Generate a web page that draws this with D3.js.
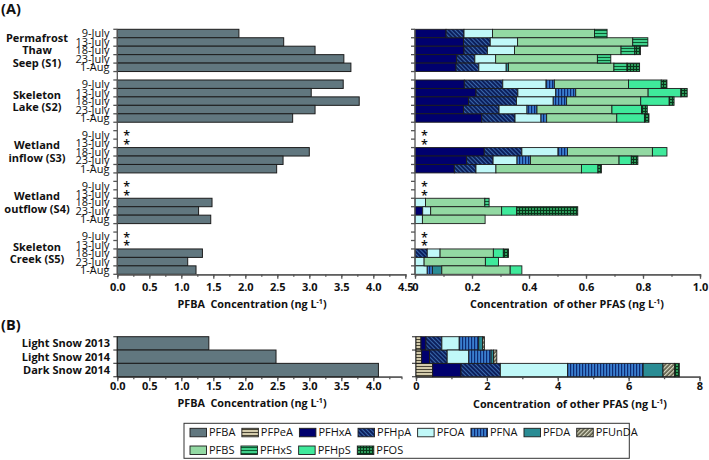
<!DOCTYPE html>
<html><head><meta charset="utf-8">
<script src="https://cdn.jsdelivr.net/npm/d3@7"></script>
<style>
body{margin:0;background:#fff}
svg{display:block}
text{font-family:'Open Sans',sans-serif;fill:#111}
</style>
</head><body>
<svg id="c" width="709" height="460"></svg>
<script>
// ---------------- DATA ----------------
const siteLabels = [["Permafrost","Thaw","Seep (S1)"],["Skeleton","Lake (S2)"],["Wetland","inflow (S3)"],["Wetland","outflow (S4)"],["Skeleton","Creek (S5)"]];
const dates = ["9-July","13-July","18-July","23-July","1-Aug"];
// rows: S1 (5 dates), S2, S3, S4, S5 ; null = not sampled (*)
const pfbaA = [1.90,2.60,3.09,3.54,3.65, 3.53,3.03,3.78,3.09,2.74, null,null,3.00,2.59,2.49, null,null,1.48,1.27,1.46, null,null,1.33,1.10,1.23];
const compounds = ["PFPeA","PFHxA","PFHpA","PFOA","PFNA","PFDA","PFUnDA","PFBS","PFHxS","PFHpS","PFOS"];
const pfpeaA  = [0,0,0,0,0, 0,0,0,0,0, null,null,0,0,0, null,null,0,0,0, null,null,0,0,0];
const pfhxaA  = [.109,.170,.172,.146,.144, .173,.214,.188,.170,.234, null,null,.243,.181,.138, null,null,0,.027,0, null,null,0,0,0];
const pfhpaA  = [.063,.094,.082,.064,.080, .135,.147,.168,.125,.117, null,null,.132,.093,.076, null,null,0,0,0, null,null,.043,0,0];
const pfoaA   = [.100,.096,.095,.073,.096, .152,.133,.129,.098,.091, null,null,.127,.084,.070, null,null,.037,.028,.026, null,null,.045,.032,.043];
const pfnaA   = [0,0,0,0,0, .029,.070,.047,.035,.020, null,null,.033,.047,0, null,null,0,0,0, null,null,0,0,.018];
const pfdaA   = [0,0,0,0,.008, 0,0,0,0,0, null,null,0,0,0, null,null,0,0,0, null,null,0,0,.033];
const pfundaA = [0,0,0,0,0, 0,0,0,0,0, null,null,0,0,0, null,null,0,0,0, null,null,0,0,0];
const pfbsA   = [.358,.404,.374,.357,.370, .260,.254,.260,.263,.246, null,null,.298,.311,.300, null,null,.208,.249,.220, null,null,.187,.215,.240];
const pfhxsA  = [.044,.053,.048,.047,.046, 0,0,0,0,0, null,null,0,0,0, null,null,.015,0,0, null,null,0,0,0];
const pfhpsA  = [0,0,0,0,0, .115,.115,.100,.104,.097, null,null,.051,.043,.058, null,null,0,.053,0, null,null,.035,.046,.041];
const pfosA   = [0,0,.020,0,.044, .020,.022,.017,.020,.016, null,null,0,.023,.012, null,null,0,.214,0, null,null,.018,0,0];

const snowCats = ["Light Snow 2013","Light Snow 2014","Dark Snow 2014"];
const pfbaSnow   = [1.43, 2.48, 4.08];
const pfpeaSnow  = [0.14, 0.16, 0.47];
const pfhxaSnow  = [0.14, 0.22, 0.80];
const pfhpaSnow  = [0.45, 0.50, 1.11];
const pfoaSnow   = [0.49, 0.61, 1.90];
const pfnaSnow   = [0.55, 0.63, 2.13];
const pfdaSnow   = [0.11, 0.07, 0.56];
const pfundaSnow = [0.05, 0.09, 0.33];
const pfbsSnow   = [0, 0, 0];
const pfhxsSnow  = [0, 0, 0];
const pfhpsSnow  = [0, 0, 0];
const pfosSnow   = [0, 0, 0.13];

const legendRow1 = ["PFBA","PFPeA","PFHxA","PFHpA","PFOA","PFNA","PFDA","PFUnDA"];
const legendRow2 = ["PFBS","PFHxS","PFHpS","PFOS"];

const seriesA = [pfpeaA,pfhxaA,pfhpaA,pfoaA,pfnaA,pfdaA,pfundaA,pfbsA,pfhxsA,pfhpsA,pfosA];
const seriesSnow = [pfpeaSnow,pfhxaSnow,pfhpaSnow,pfoaSnow,pfnaSnow,pfdaSnow,pfundaSnow,pfbsSnow,pfhxsSnow,pfhpsSnow,pfosSnow];

// ---------------- STYLE ----------------
const svg = d3.select("#c");
const defs = svg.append("defs");
function pattern(id, w, h, bg, rot){
  const p = defs.append("pattern").attr("id", id).attr("patternUnits","userSpaceOnUse")
    .attr("width", w).attr("height", h);
  if (rot) p.attr("patternTransform", `rotate(${rot})`);
  p.append("rect").attr("width", w).attr("height", h).attr("fill", bg);
  return p;
}
let p;
p = pattern("pPeA", 4, 3, "#d2caab"); p.append("rect").attr("y",0).attr("width",4).attr("height",1).attr("fill","#4a4535");
p = pattern("pHpA", 3, 3, "#0c1f5c", -45); p.append("rect").attr("x",0).attr("width",1).attr("height",3).attr("fill","#3a68aa");
p = pattern("pNA", 3, 4, "#3a7fcf"); p.append("rect").attr("x",0).attr("width",1.2).attr("height",4).attr("fill","#0e2a72");
p = pattern("pUnDA", 3, 3, "#5c5c46", 45); p.append("rect").attr("x",0).attr("width",1.3).attr("height",3).attr("fill","#d8d8c4");
p = pattern("pHxS", 4, 3, "#3fcf8a"); p.append("rect").attr("y",0).attr("width",4).attr("height",1).attr("fill","#0b5a30");
p = pattern("pOS", 3, 3, "#2c9a5a"); p.append("rect").attr("width",3).attr("height",1).attr("fill","#08361a"); p.append("rect").attr("width",1).attr("height",3).attr("fill","#08361a");

const fills = {PFBA:"#61777f", PFPeA:"url(#pPeA)", PFHxA:"#00006e", PFHpA:"url(#pHpA)", PFOA:"#c0f8f8",
  PFNA:"url(#pNA)", PFDA:"#2a8c94", PFUnDA:"url(#pUnDA)", PFBS:"#93d9a3", PFHxS:"url(#pHxS)", PFHpS:"#3fe99b", PFOS:"url(#pOS)"};
const axisColor = "#555";

// ---------------- SCALES ----------------
const nSlotsA = siteLabels.length*6 - 1;
const yA = d3.scaleBand().domain(d3.range(nSlotsA)).range([29.3, 274.3]).padding(0);
const slotOf = i => Math.floor(i/5)*6 + (i%5);
const xA  = d3.scaleLinear().domain([0,4.5]).range([117.3, 405.3]);
const xRA = d3.scaleLinear().domain([0,1]).range([415, 700]);
const yB  = d3.scaleBand().domain(snowCats).range([336.7, 376.7]).padding(0);
const xBL = d3.scaleLinear().domain([0,4.44]).range([117.3, 117.3+4.44*64]);
const xBR = d3.scaleLinear().domain([0,8]).range([416, 699.5]);

// ---------------- PANEL LABELS ----------------
svg.append("text").attr("x",1).attr("y",13.5).attr("font-size",14.5).attr("font-weight",700).text("(A)");
svg.append("text").attr("x",1).attr("y",330).attr("font-size",14.5).attr("font-weight",700).text("(B)");

// ---------------- PANEL A LEFT ----------------
const rowsA = pfbaA.map((v,i)=>({i, slot:slotOf(i), v}));
const gAL = svg.append("g");
gAL.selectAll("rect").data(rowsA.filter(d=>d.v!=null)).join("rect")
  .attr("x", xA(0)).attr("y", d=>yA(d.slot)).attr("width", d=>xA(d.v)-xA(0)).attr("height", yA.bandwidth())
  .attr("fill", fills.PFBA).attr("stroke","#1c1c1c").attr("stroke-width",1);

// stacked right A
const stackRowsA = pfbaA.map((v,i)=>{const o={slot:slotOf(i), missing: v==null}; compounds.forEach((c,k)=>o[c]=seriesA[k][i]||0); return o;});
const stackA = d3.stack().keys(compounds)(stackRowsA);
const gAR = svg.append("g");
stackA.forEach(layer=>{
  gAR.append("g").selectAll("rect").data(layer.filter(d=>!d.data.missing && d[1]-d[0]>0)).join("rect")
    .attr("x", d=>xRA(d[0])).attr("y", d=>yA(d.data.slot)).attr("width", d=>xRA(d[1])-xRA(d[0]))
    .attr("height", yA.bandwidth()).attr("fill", fills[layer.key]).attr("stroke","#1c1c1c").attr("stroke-width",0.9);
});

// asterisks
const missA = rowsA.filter(d=>d.v==null);
[xA(0), xRA(0)].forEach(x0=>{
  svg.append("g").selectAll("text").data(missA).join("text")
    .attr("x", x0+9.5).attr("y", d=>yA(d.slot)+yA.bandwidth()/2+5.5).attr("text-anchor","middle")
    .attr("font-size",12.5).attr("font-weight",600).text("*");
});

// date labels and site labels
const gLab = svg.append("g");
gLab.selectAll("text").data(rowsA).join("text")
  .attr("x", 109.5).attr("y", d=>yA(d.slot)+yA.bandwidth()/2).attr("dy","0.36em")
  .attr("text-anchor","end").attr("font-size",11).text(d=>dates[d.i%5]);
siteLabels.forEach((lines,s)=>{
  const cy = yA(s*6) + yA.bandwidth()*2.5;
  lines.forEach((t,k)=>{
    svg.append("text").attr("x",37).attr("y", cy + (k-(lines.length-1)/2)*12.7).attr("dy","0.36em")
      .attr("text-anchor","middle").attr("font-size",11).attr("font-weight",700).text(t);
  });
});

// y axes (category boundary ticks)
function yAxisLines(x0, y0, y1, ticks){
  const g = svg.append("g").attr("stroke", axisColor).attr("stroke-width",1.3);
  g.append("line").attr("x1",x0).attr("x2",x0).attr("y1",y0).attr("y2",y1);
  ticks.forEach(y=>g.append("line").attr("x1",x0-4).attr("x2",x0).attr("y1",y).attr("y2",y));
}
const bA = d3.range(nSlotsA+1).map(k=>yA.range()[0]+k*yA.step());
yAxisLines(xA(0), yA.range()[0], yA.range()[1], bA);
yAxisLines(xRA(0), yA.range()[0], yA.range()[1], bA);
const bB = d3.range(snowCats.length+1).map(k=>yB.range()[0]+k*yB.step());
yAxisLines(xBL(0), yB.range()[0], yB.range()[1], bB);
yAxisLines(xBR(0), yB.range()[0], yB.range()[1], bB);

// x axes
function xAxis(scale, y, major, minor, fmt, labelOffset){
  const g = svg.append("g").attr("transform",`translate(0,${y})`);
  g.call(d3.axisBottom(scale).tickValues(minor).tickSize(2.5).tickFormat(""));
  const g2 = svg.append("g").attr("transform",`translate(0,${y})`);
  g2.call(d3.axisBottom(scale).tickValues(major).tickSize(4.5).tickSizeOuter(0).tickPadding(labelOffset).tickFormat(fmt));
  [g,g2].forEach(gg=>{
    gg.select(".domain").attr("stroke",axisColor).attr("stroke-width",1.3);
    gg.selectAll(".tick line").attr("stroke",axisColor).attr("stroke-width",1.3);
  });
  g2.selectAll(".tick text").attr("font-size",11).attr("font-weight",700).attr("fill","#111")
    .attr("font-family","'Open Sans',sans-serif");
}
const f1 = d3.format(".1f");
xAxis(xA, 274.3, d3.range(0,4.51,0.5), d3.range(0,4.51,0.25), f1, 4.5);
xAxis(xRA, 274.3, d3.range(0,1.001,0.2), d3.range(0,1.001,0.1), d=>d===0?"0":f1(d), 4.5);
xAxis(xBL, 376.7, d3.range(0,4.01,0.5), d3.range(0,4.3,0.25), f1, 1);
xAxis(xBR, 376.7, d3.range(0,8.01,2), d3.range(0,8.01,1), d3.format("d"), 1);

// axis titles
function title(x, y, main){
  const t = svg.append("text").attr("x",x).attr("y",y).attr("dy","0.36em").attr("text-anchor","middle")
    .attr("font-size",10.8).attr("font-weight",700).attr("xml:space","preserve");
  t.append("tspan").text(main + " (ng L");
  t.append("tspan").attr("font-size",7).attr("dy",-4).text("-1");
  t.append("tspan").attr("dy",4).text(")");
}
title(252, 304.5, "PFBA  Concentration");
title(567, 304.5, "Concentration  of other PFAS");
title(252, 403, "PFBA  Concentration");
title(570, 404, "Concentration  of other PFAS");

// ---------------- PANEL B ----------------
svg.append("g").selectAll("rect").data(snowCats.map((c,i)=>({c, v:pfbaSnow[i]}))).join("rect")
  .attr("x", xBL(0)).attr("y", d=>yB(d.c)).attr("width", d=>xBL(d.v)-xBL(0)).attr("height", yB.bandwidth())
  .attr("fill", fills.PFBA).attr("stroke","#1c1c1c").attr("stroke-width",1);
const stackRowsB = snowCats.map((c,i)=>{const o={c}; compounds.forEach((k,j)=>o[k]=seriesSnow[j][i]); return o;});
d3.stack().keys(compounds)(stackRowsB).forEach(layer=>{
  svg.append("g").selectAll("rect").data(layer.filter(d=>d[1]-d[0]>0)).join("rect")
    .attr("x", d=>xBR(d[0])).attr("y", d=>yB(d.data.c)).attr("width", d=>xBR(d[1])-xBR(d[0]))
    .attr("height", yB.bandwidth()).attr("fill", fills[layer.key]).attr("stroke","#1c1c1c").attr("stroke-width",0.9);
});
svg.append("g").selectAll("text").data(snowCats).join("text")
  .attr("x",110).attr("y", d=>yB(d)+yB.bandwidth()/2).attr("dy","0.36em").attr("text-anchor","end")
  .attr("font-size",11).attr("font-weight",700).text(d=>d);

// ---------------- LEGEND ----------------
const leg = svg.append("g");
leg.append("rect").attr("x",184).attr("y",423.3).attr("width",445.3).attr("height",35)
  .attr("fill","#fff").attr("stroke","#333").attr("stroke-width",1);
[[legendRow1,432.3],[legendRow2,450]].forEach(([items,cy])=>{
  let x = 190;
  items.forEach(k=>{
    leg.append("rect").attr("x",x).attr("y",cy-4).attr("width",16.5).attr("height",8.5)
      .attr("fill",fills[k]).attr("stroke","#1c1c1c").attr("stroke-width",0.9);
    const t = leg.append("text").attr("x",x+19).attr("y",cy).attr("dy","0.36em").attr("font-size",11).text(k);
    x = x + 19 + t.node().getComputedTextLength() + 6.5;
  });
});
</script>
</body></html>
